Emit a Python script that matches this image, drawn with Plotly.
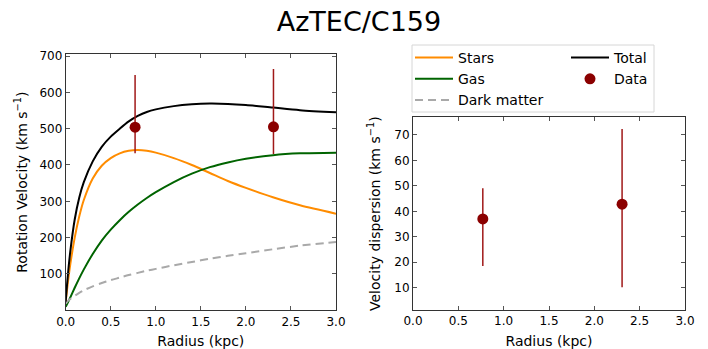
import plotly.graph_objects as go

W, H = 708, 349

# ---- data ----
radius = [0, 0.025, 0.05, 0.1, 0.15, 0.2, 0.3, 0.4, 0.5, 0.6, 0.7, 0.8, 0.9, 1.0,
          1.2, 1.4, 1.6, 1.8, 2.0, 2.3, 2.6, 3.0]
v_total = [24, 100, 160, 250, 310, 352, 410, 450, 478, 500, 520, 535, 546, 553,
           562, 567, 569, 568, 565, 558, 551, 545]
v_stars = [24, 78, 125, 200, 258, 303, 363, 398, 419, 432, 439, 441, 439, 434,
           419, 400, 378, 356, 337, 311, 289, 266]
v_gas = [10, 22, 35, 62, 88, 112, 155, 192, 222, 248, 271, 291, 309, 325,
         353, 376, 394, 407, 417, 427, 432, 434]
v_dm = [18, 26, 31, 40, 48, 55, 66, 75, 83, 90, 97, 103, 109, 114,
        124, 133, 142, 150, 157, 168, 178, 188]

data_r = [0.77, 2.306]
data_v = [504, 505]
data_v_up = [144, 159]
data_v_lo = [72, 75]

disp_r = [0.77, 2.306]
disp = [37.0, 42.8]
disp_up = [12.1, 29.6]
disp_lo = [18.5, 32.6]

x_ticks = [0, 0.5, 1.0, 1.5, 2.0, 2.5, 3.0]
x_ticktext = ["0.0", "0.5", "1.0", "1.5", "2.0", "2.5", "3.0"]
v_ticks = [100, 200, 300, 400, 500, 600, 700]
s_ticks = [10, 20, 30, 40, 50, 60, 70]

ORANGE = "#ff8c00"
GREEN = "#006400"
GRAY = "#a9a9a9"
DRED = "#8b0000"
FONT = "DejaVu Sans"


def px(x):
    return x / W


def py(y):
    return 1 - y / H


fig = go.Figure()


def curve(y, name, color, legend, dash="solid"):
    return go.Scatter(x=radius, y=y, name=name, mode="lines",
                      line=dict(color=color, width=2, dash=dash, shape="spline", smoothing=0.8),
                      legend=legend, xaxis="x", yaxis="y")


fig.add_trace(curve(v_stars, "Stars", ORANGE, "legend"))
fig.add_trace(curve(v_gas, "Gas", GREEN, "legend"))
fig.add_trace(curve(v_dm, "Dark matter", GRAY, "legend", dash="8px,5px"))
fig.add_trace(curve(v_total, "Total", "black", "legend2"))
fig.add_trace(go.Scatter(x=data_r, y=data_v, name="Data", mode="markers",
                         marker=dict(color=DRED, size=11),
                         error_y=dict(type="data", array=data_v_up, arrayminus=data_v_lo,
                                      color="#a01818", thickness=1.5, width=0),
                         legend="legend2", xaxis="x", yaxis="y"))
fig.add_trace(go.Scatter(x=disp_r, y=disp, name="Data", mode="markers", showlegend=False,
                         marker=dict(color=DRED, size=11),
                         error_y=dict(type="data", array=disp_up, arrayminus=disp_lo,
                                      color="#a01818", thickness=1.5, width=0),
                         xaxis="x2", yaxis="y2"))

axis_common = dict(
    showgrid=False, zeroline=False, showline=True, linecolor="#333333", linewidth=1,
    mirror="ticks", ticks="inside", ticklen=4, tickwidth=1, tickcolor="#555555",
    tickfont=dict(family=FONT, size=12, color="black"), automargin=False,
)

legend_common = dict(xanchor="left", yanchor="top", bgcolor="rgba(0,0,0,0)", borderwidth=0,
                     font=dict(family=FONT, size=14, color="black"), tracegroupgap=0, itemwidth=38)

fig.update_layout(
    width=W, height=H,
    margin=dict(l=0, r=0, t=0, b=0, pad=0),
    template="none",
    paper_bgcolor="white", plot_bgcolor="white",
    font=dict(family=FONT, color="black"),
    title=dict(text="AzTEC/C159", x=0.507, xref="paper", xanchor="center",
               y=py(22), yref="container", yanchor="middle",
               font=dict(family=FONT, size=27, color="black")),
    xaxis=dict(domain=[px(65.7), px(336)], range=[0, 3], tickvals=x_ticks, ticktext=x_ticktext,
               title=dict(text="Radius (kpc)", font=dict(family=FONT, size=14), standoff=8),
               anchor="y", **axis_common),
    yaxis=dict(domain=[py(310.3), py(54)], range=[0, 705.5], tickvals=v_ticks,
               title=dict(text="Rotation Velocity (km s<sup>−1</sup>)", font=dict(family=FONT, size=14), standoff=8),
               anchor="x", **axis_common),
    xaxis2=dict(domain=[px(413), px(685)], range=[0, 3], tickvals=x_ticks, ticktext=x_ticktext,
                title=dict(text="Radius (kpc)", font=dict(family=FONT, size=14), standoff=8),
                anchor="y2", **axis_common),
    yaxis2=dict(domain=[py(310), py(117.3)], range=[1.24, 76.95], tickvals=s_ticks,
                title=dict(text="Velocity dispersion (km s<sup>−1</sup>)", font=dict(family=FONT, size=14), standoff=10),
                anchor="x2", **axis_common),
    legend=dict(x=px(410), y=py(42), **legend_common),
    legend2=dict(x=px(566), y=py(42), **legend_common),
    shapes=[dict(type="rect", xref="paper", yref="paper",
                 x0=px(412), x1=px(654), y0=py(112), y1=py(45),
                 line=dict(color="#d6d6d6", width=1), fillcolor="rgba(255,255,255,0.8)", layer="below")],
)

fig.write_html("out.html")
